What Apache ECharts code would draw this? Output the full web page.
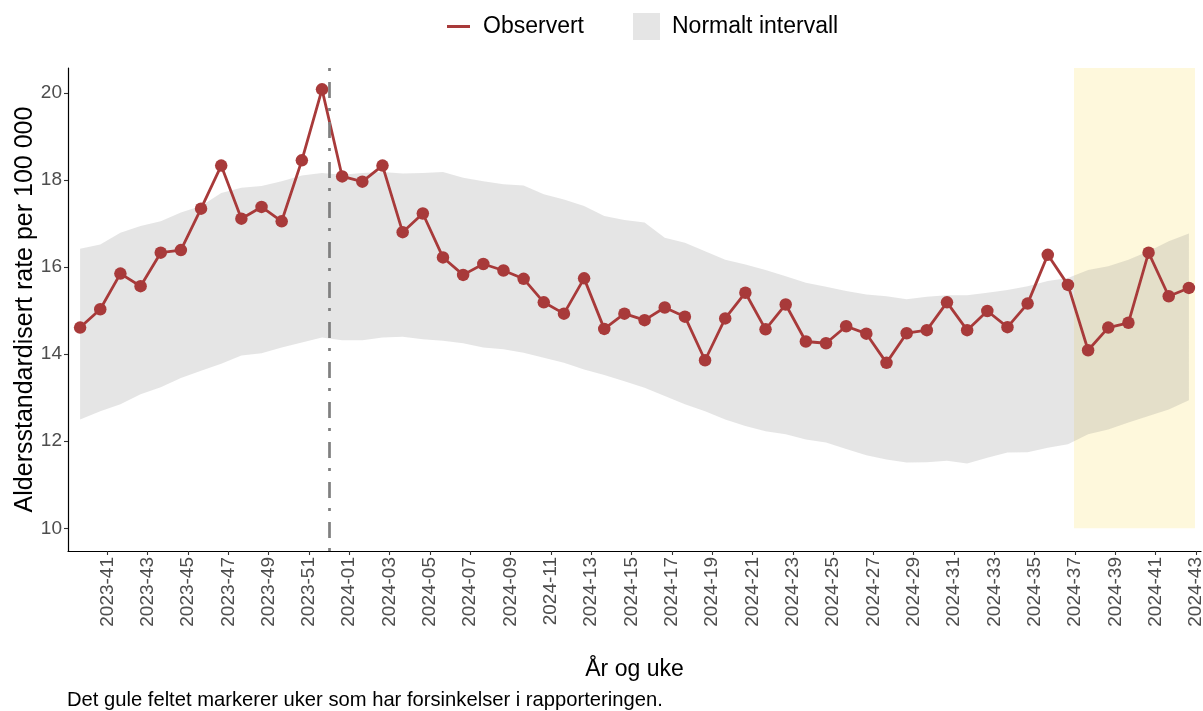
<!DOCTYPE html>
<html>
<head>
<meta charset="utf-8">
<script src="https://cdn.jsdelivr.net/npm/echarts@6/dist/echarts.min.js"></script>
<style>
  html, body { margin: 0; padding: 0; background: #fff; }
  #chart { width: 1203px; height: 711px; }
</style>
</head>
<body>
<div id="chart"></div>
<script>
// uker (år-uke) i rekkefølge
var weeks = [
  '2023-40', '2023-41', '2023-42', '2023-43', '2023-44', '2023-45', '2023-46', '2023-47',
  '2023-48', '2023-49', '2023-50', '2023-51', '2023-52',
  '2024-01', '2024-02', '2024-03', '2024-04', '2024-05', '2024-06', '2024-07', '2024-08',
  '2024-09', '2024-10', '2024-11', '2024-12', '2024-13', '2024-14', '2024-15', '2024-16',
  '2024-17', '2024-18', '2024-19', '2024-20', '2024-21', '2024-22', '2024-23', '2024-24',
  '2024-25', '2024-26', '2024-27', '2024-28', '2024-29', '2024-30', '2024-31', '2024-32',
  '2024-33', '2024-34', '2024-35', '2024-36', '2024-37', '2024-38', '2024-39', '2024-40',
  '2024-41', '2024-42', '2024-43'
];

// observert rate
var observed = [
  14.61, 15.03, 15.85, 15.56, 16.33, 16.39, 17.34, 18.33, 17.11, 17.38, 17.05, 18.45, 20.08,
  18.08, 17.96, 18.33, 16.80, 17.23, 16.22, 15.82, 16.07, 15.92, 15.73, 15.19, 14.93, 15.74,
  14.58, 14.93, 14.78, 15.07, 14.86, 13.86, 14.82, 15.41, 14.57, 15.14, 14.29, 14.25, 14.64,
  14.47, 13.80, 14.48, 14.55, 15.19, 14.55, 14.99, 14.62, 15.16, 16.28, 15.59, 14.09, 14.61,
  14.72, 16.33, 15.33, 15.52
];

// normalt intervall, øvre og nedre grense
var upper = [
  16.42, 16.52, 16.79, 16.94, 17.05, 17.25, 17.40, 17.70, 17.82, 17.86, 17.97, 18.10, 18.16,
  18.12, 18.16, 18.18, 18.15, 18.16, 18.18, 18.05, 17.97, 17.90, 17.87, 17.67, 17.55, 17.40,
  17.17, 17.08, 17.02, 16.67, 16.56, 16.36, 16.17, 16.06, 15.93, 15.79, 15.64, 15.55, 15.45,
  15.37, 15.33, 15.26, 15.32, 15.35, 15.35, 15.41, 15.47, 15.56, 15.68, 15.75, 15.93, 16.02,
  16.17, 16.36, 16.59, 16.77
];
var lower = [
  12.50, 12.69, 12.85, 13.08, 13.24, 13.45, 13.62, 13.78, 13.97, 14.02, 14.15, 14.27, 14.38,
  14.32, 14.32, 14.38, 14.40, 14.34, 14.31, 14.25, 14.15, 14.11, 14.03, 13.92, 13.80, 13.65,
  13.52, 13.38, 13.23, 13.04, 12.85, 12.69, 12.50, 12.35, 12.23, 12.16, 12.04, 11.97, 11.82,
  11.68, 11.58, 11.51, 11.52, 11.55, 11.49, 11.62, 11.74, 11.75, 11.85, 11.93, 12.16, 12.27,
  12.43, 12.58, 12.73, 12.94
];

var tickLabels = weeks.filter(function(w, i) { return i % 2 === 1; });
var yTicks = [10, 12, 14, 16, 18, 20];

// markeringer
var yearChange = 12.37;                // årsskifte (stiplet linje)
var delayFrom = 49.3, delayTo = 55.3;  // uker med forsinket rapportering
var delayBottom = 10;

var LABEL_SHIFT = 0.35;
var X_MIN = -0.6, X_MAX = weeks.length - 1 + 0.6;
var Y_MIN = 9.48, Y_MAX = 20.57;
var RED = '#A83A3A';
var FONT = 'Liberation Sans, Arial, sans-serif';

var tickPos = tickLabels.map(function(w) { return weeks.indexOf(w) + LABEL_SHIFT; });

var toXY = function(arr) {
  return arr.map(function(v, i) { return [i, v]; });
};

// grått bånd mellom nedre og øvre grense
var renderBand = function(params, api) {
  if (params.dataIndex !== 0) return;
  var pts = [], i;
  for (i = 0; i < upper.length; i++) pts.push(api.coord([i, upper[i]]));
  for (i = lower.length - 1; i >= 0; i--) pts.push(api.coord([i, lower[i]]));
  return {
    type: 'polygon',
    shape: { points: pts },
    style: { fill: 'rgba(127,127,127,0.2)' },
    silent: true
  };
};

var chart = echarts.init(document.getElementById('chart'));

var option = {
  animation: false,
  textStyle: { fontFamily: FONT },
  title: {
    text: 'Det gule feltet markerer uker som har forsinkelser i rapporteringen.',
    left: 67,
    top: 690,
    padding: 0,
    textStyle: { fontSize: 20.2, fontWeight: 'normal', color: '#000', fontFamily: FONT }
  },
  legend: [{
    data: [{ name: 'Observert', icon: 'rect', itemStyle: { color: RED } }],
    left: 447,
    top: 15,
    padding: 0,
    itemWidth: 23,
    itemHeight: 3,
    selectedMode: false,
    textStyle: { fontSize: 23, color: '#000', padding: [0, 0, 0, 8], fontFamily: FONT }
  }, {
    data: [{ name: 'Normalt intervall', icon: 'rect', itemStyle: { color: '#E5E5E5' } }],
    left: 633,
    top: 13,
    padding: 0,
    itemWidth: 27,
    itemHeight: 27,
    selectedMode: false,
    textStyle: { fontSize: 23, color: '#000', padding: [0, 0, 0, 7], fontFamily: FONT }
  }],
  grid: { left: 68, right: 2, top: 68, bottom: 160, outerBoundsMode: 'none' },
  xAxis: {
    type: 'value',
    min: X_MIN,
    max: X_MAX,
    name: 'År og uke',
    nameLocation: 'middle',
    nameGap: 107,
    nameTextStyle: { fontSize: 23, color: '#000', fontFamily: FONT },
    axisLine: { onZero: false, lineStyle: { color: '#000', width: 1.2 } },
    axisTick: { customValues: tickPos, length: 4, lineStyle: { color: '#333', width: 1.1 } },
    axisLabel: {
      customValues: tickPos,
      rotate: 90,
      margin: 6,
      fontSize: 19,
      color: '#4D4D4D',
      fontFamily: FONT,
      formatter: function(v) {
        return weeks[Math.round(v - LABEL_SHIFT)] || '';
      }
    },
    splitLine: { show: false }
  },
  yAxis: {
    type: 'value',
    min: Y_MIN,
    max: Y_MAX,
    name: 'Aldersstandardisert rate per 100 000',
    nameLocation: 'middle',
    nameRotate: 90,
    nameGap: 30,
    nameMoveOverlap: false,
    nameTextStyle: { fontSize: 25, color: '#000', fontFamily: FONT },
    axisLine: { show: true, onZero: false, lineStyle: { color: '#000', width: 1.2 } },
    axisTick: { show: true, customValues: yTicks, length: 4, lineStyle: { color: '#333', width: 1.1 } },
    axisLabel: { customValues: yTicks, fontSize: 19, color: '#4D4D4D', margin: 6, fontFamily: FONT },
    splitLine: { show: false }
  },
  series: [{
    // usynlig hjelpeserie: gult felt og årsskiftelinje
    name: 'markering',
    type: 'line',
    z: 1,
    data: toXY(lower),
    symbol: 'none',
    silent: true,
    lineStyle: { width: 0, opacity: 0 },
    markArea: {
      silent: true,
      itemStyle: { color: '#FEF8DC' },
      data: [[{ xAxis: delayFrom, yAxis: delayBottom }, { xAxis: delayTo, yAxis: Y_MAX }]]
    },
    markLine: {
      silent: true,
      symbol: 'none',
      label: { show: false },
      lineStyle: { color: '#7F7F7F', width: 2.7, type: [3, 10, 16, 11] },
      data: [{ xAxis: yearChange }]
    }
  }, {
    name: 'Normalt intervall',
    type: 'custom',
    z: 2,
    data: lower.map(function(l, i) { return [i, l, upper[i]]; }),
    encode: { x: 0, y: [1, 2] },
    itemStyle: { color: '#E5E5E5' },
    renderItem: renderBand
  }, {
    name: 'Observert',
    type: 'line',
    z: 3,
    data: toXY(observed),
    symbol: 'circle',
    symbolSize: 12.5,
    lineStyle: { color: RED, width: 2.8 },
    itemStyle: { color: RED }
  }]
};

chart.setOption(option);
</script>
</body>
</html>
